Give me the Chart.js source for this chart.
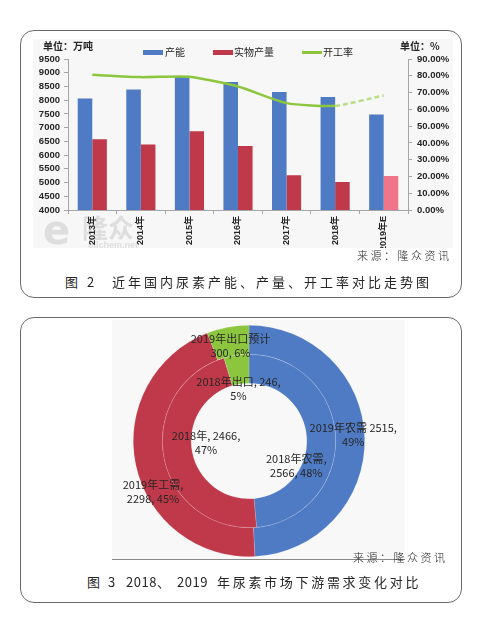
<!DOCTYPE html>
<html>
<head>
<meta charset="utf-8">
<script src="https://cdn.jsdelivr.net/npm/chart.js@4"></script>
<style>
  html, body { margin: 0; padding: 0; background: #fff; }
  body { width: 482px; height: 627px; position: relative; overflow: hidden; font-family: "Noto Sans CJK SC", "Liberation Sans", sans-serif; color: #262626; }
  .box { position: absolute; border: 1px solid #6a6a6a; border-radius: 14px; box-sizing: border-box; }
  .abs { position: absolute; white-space: nowrap; }
  .unit { font-size: 10px; font-weight: bold; line-height: 12px; }
  .lg { font-size: 10px; line-height: 12px; }
  .sw { position: absolute; }
  .src { font-size: 11px; letter-spacing: 2.5px; line-height: 14px; font-weight: 300; }
  .cap { font-size: 13px; line-height: 16px; letter-spacing: 3px; }
  .cap .n { letter-spacing: 0.5px; }
</style>
</head>
<body>
<div class="box" style="left:20px; top:30px; width:442px; height:268px;"></div>
<div class="box" style="left:20px; top:317px; width:442px; height:286px;"></div>

<div class="abs" style="left:33px; top:39px; width:420px; height:209px;"><canvas id="barChart"></canvas></div>
<div class="abs" style="left:112px; top:320px; width:293px; height:239px;"><canvas id="donutChart"></canvas></div>
<div class="abs" style="left:112px; top:559px; width:293px; height:0; border-top:1px solid #8a8a8a;"></div>

<!-- chart 1 units + legend -->
<div class="abs unit" style="left:43px; top:40px;">单位：万吨</div>
<div class="abs unit" style="left:400px; top:40px;">单位：%</div>
<div class="sw" style="left:143px; top:50px; width:20px; height:5px; background:#4f7bc4;"></div>
<div class="abs lg" style="left:165px; top:46px;">产能</div>
<div class="sw" style="left:213px; top:50px; width:20px; height:5px; background:#c0394a;"></div>
<div class="abs lg" style="left:234px; top:46px;">实物产量</div>
<div class="sw" style="left:302px; top:51px; width:20px; height:2.5px; background:#8cc63e;"></div>
<div class="abs lg" style="left:323px; top:46px;">开工率</div>

<div class="abs src" style="left:357px; top:248px;">来源：隆众资讯</div>
<div class="abs cap" style="left:65px; top:274px;">图</div>
<div class="abs cap" style="left:87px; top:274px;">2</div>
<div class="abs cap" style="left:112px; top:274px;">近年国内尿素产能、产量、开工率对比走势图</div>

<div class="abs src" style="left:353px; top:550px;">来源：隆众资讯</div>
<div class="abs cap" style="left:87px; top:574px;">图</div>
<div class="abs cap" style="left:108px; top:574px;">3</div>
<div class="abs cap" style="left:126px; top:574px;"><span class="n">2018</span>、</div>
<div class="abs cap" style="left:177px; top:574px;"><span class="n">2019</span></div>
<div class="abs cap" style="left:217px; top:574px; letter-spacing:2.7px;">年尿素市场下游需求变化对比</div>

<script>
// chart 1: capacity / output / operating rate
const years = ['2013年', '2014年', '2015年', '2016年', '2017年', '2018年', '2019年E'];
const capacity = [8060, 8390, 8840, 8665, 8300, 8120, 7480];
const output = [6580, 6390, 6870, 6330, 5270, 5020, 5240];
const operatingRate = [80.6, 79.2, 79.4, 73.6, 63.7, 62.1, 68.3];

// chart 2: downstream demand, 2019 outer ring, 2018 inner ring
const demandTypes = ['农需', '工需', '出口'];
const demand2019 = [2515, 2298, 300];
const demand2018 = [2566, 2466, 246];
const text2019 = [['2019年农需 2515,', '49%'], ['2019年工需,', '2298, 45%'], ['2019年出口预计', '300, 6%']];
const text2018 = [['2018年农需,', '2566, 48%'], ['2018年, 2466,', '47%'], ['2018年出口, 246,', '5%']];

const blue = '#4f7bc4', red = '#c0394a', pink = '#f07589', green = '#8cc63e';
const numFont = '"Liberation Sans", "Noto Sans CJK SC", sans-serif';
const cjkFont = '"Noto Sans CJK SC", "Liberation Sans", sans-serif';
const axisColor = '#a6a6a6';

const bgFill = {
    id: 'bgFill',
    beforeDraw(chart, args, opts) {
        const c = chart.ctx;
        c.save();
        c.fillStyle = opts.color || '#f7f7f7';
        c.fillRect(0, 0, chart.width, chart.height);
        if (opts.watermark) {
            c.fillStyle = '#dedede';
            c.font = 'bold 40px "DejaVu Sans", sans-serif';
            c.textBaseline = 'alphabetic';
            c.fillText('e', 10, 205);
            c.font = 'bold 26px ' + cjkFont;
            c.fillText('隆众', 49, 199);
            c.font = 'bold 9px ' + numFont;
            c.fillText('oilchem.net', 55, 209);
        }
        c.restore();
    }
};

new Chart(document.getElementById('barChart'), {
    type: 'bar',
    data: {
        labels: years,
        datasets: [
            { label: '产能', data: capacity, backgroundColor: blue, yAxisID: 'y', order: 2, categoryPercentage: 0.6, barPercentage: 1.0 },
            { label: '实物产量', data: output, backgroundColor: output.map((v, i) => i === output.length - 1 ? pink : red), yAxisID: 'y', order: 2, categoryPercentage: 0.6, barPercentage: 1.0 },
            {
                type: 'line', label: '开工率', data: operatingRate, yAxisID: 'y1', order: 1,
                borderColor: green, backgroundColor: green, borderWidth: 2.5, pointRadius: 0, tension: 0.2,
                segment: {
                    borderDash: c => c.p1DataIndex === operatingRate.length - 1 ? [5, 3] : undefined,
                    borderColor: c => c.p1DataIndex === operatingRate.length - 1 ? '#b8de87' : undefined
                }
            }
        ]
    },
    options: {
        responsive: true, maintainAspectRatio: false, animation: false, events: [],
        layout: { padding: { top: 20, left: 0, right: 0, bottom: 0 } },
        plugins: { legend: { display: false }, tooltip: { enabled: false }, bgFill: { color: '#f7f7f7', watermark: true } },
        scales: {
            x: {
                grid: { display: true, drawOnChartArea: false, offset: true, tickLength: 4, color: axisColor },
                border: { color: axisColor },
                ticks: { minRotation: 90, maxRotation: 90, padding: 2, color: '#262626', font: { size: 9, weight: 'bold', family: numFont } },
                afterFit(s) { s.height = 38; }
            },
            y: {
                position: 'left', min: 4000, max: 9500,
                grid: { drawOnChartArea: false, tickLength: 4, color: axisColor },
                border: { color: axisColor },
                ticks: { stepSize: 500, autoSkip: false, padding: 4, color: '#262626', font: { size: 9.5, weight: 'bold', family: numFont }, callback: v => String(v) },
                afterFit(s) { s.width = 35; }
            },
            y1: {
                position: 'right', min: 0, max: 90,
                grid: { drawOnChartArea: false, tickLength: 4, color: axisColor },
                border: { color: axisColor },
                ticks: { stepSize: 10, autoSkip: false, padding: 5, color: '#262626', font: { size: 9.5, weight: 'bold', family: numFont }, callback: v => v.toFixed(2) + '%' },
                afterFit(s) { s.width = 45; }
            }
        }
    },
    plugins: [bgFill]
});

// labels sit at each arc's centroid, nudged where the original places them
const ringLabels = {
    id: 'ringLabels',
    afterDatasetsDraw(chart, args, opts) {
        const c = chart.ctx;
        c.save();
        c.font = '11px ' + cjkFont;
        c.fillStyle = '#262626';
        c.textAlign = 'center';
        c.textBaseline = 'middle';
        chart.data.datasets.forEach((ds, di) => {
            chart.getDatasetMeta(di).data.forEach((arc, i) => {
                const p = arc.tooltipPosition();
                const off = opts.offsets[di][i];
                const lines = ds.ringText[i];
                lines.forEach((t, k) => {
                    c.fillText(t, p.x + off[0], p.y + off[1] + (k - (lines.length - 1) / 2) * 14);
                });
            });
        });
        c.restore();
    }
};

new Chart(document.getElementById('donutChart'), {
    type: 'doughnut',
    data: {
        labels: demandTypes,
        datasets: [
            { data: demand2019, ringText: text2019, backgroundColor: [blue, red, green], borderColor: 'rgba(255,255,255,0.25)', borderWidth: 0.6 },
            { data: demand2018, ringText: text2018, backgroundColor: [blue, red, green], borderColor: 'rgba(255,255,255,0.25)', borderWidth: 0.6 }
        ]
    },
    options: {
        responsive: true, maintainAspectRatio: false, animation: false, events: [],
        cutout: '50%',
        layout: { padding: { top: 5, bottom: 2, left: 0, right: 19 } },
        plugins: {
            legend: { display: false }, tooltip: { enabled: false },
            bgFill: { color: '#f8f8f8' },
            ringLabels: { offsets: [[[3, -4], [3, 30], [0, 4]], [[-25, 28], [28, -12], [0, 19]]] }
        }
    },
    plugins: [bgFill, ringLabels]
});
</script>
</body>
</html>
